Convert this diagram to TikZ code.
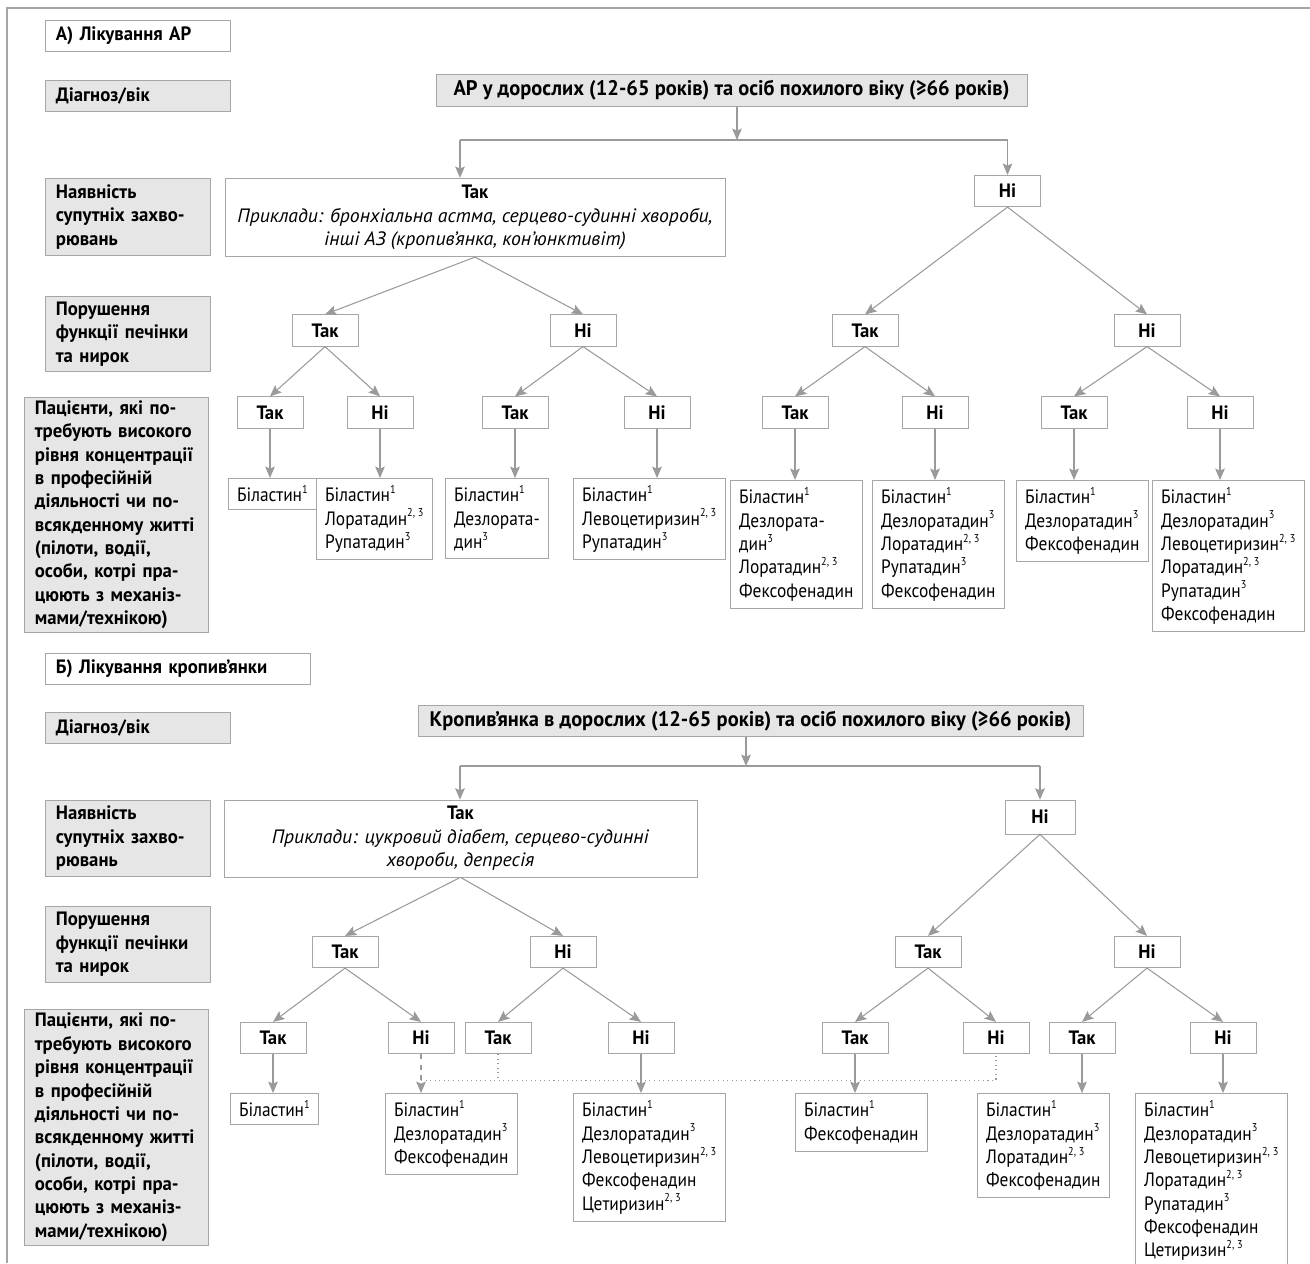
\documentclass[tikz,border=0pt]{standalone}
\usepackage{fontspec}
\setmainfont{PT Sans}[UprightFeatures={FakeStretch=0.9}, BoldFeatures={FakeStretch=0.97}, ItalicFeatures={FakeStretch=1.02}]
\usetikzlibrary{arrows.meta}

\definecolor{framegray}{HTML}{A6A6A6}
\definecolor{labelfill}{HTML}{E6E6E7}
\definecolor{arrowgray}{HTML}{9A9A9A}
\newcommand{\txtsize}{\fontsize{11}{13.3}\selectfont}
\newcommand{\hdsize}{\fontsize{12}{14}\selectfont}
\newcommand{\supn}[1]{\raisebox{0.85ex}{\fontsize{6.5}{6.5}\selectfont #1}}

\begin{document}
\begin{tikzpicture}[x=0.02cm, y=-0.02cm,
    title/.style={draw=framegray, fill=white, font=\txtsize\bfseries, anchor=north west, align=left, inner xsep=6pt, inner ysep=0pt, minimum height=0.62cm, text width=#1},
    rowlab/.style={title=#1, fill=labelfill},
    head/.style={draw=framegray, fill=labelfill, font=\hdsize\bfseries, minimum width=#1, minimum height=0.63cm, inner sep=0pt},
    yesbox/.style={draw=framegray, fill=white, font=\txtsize, align=center, minimum width=#1, minimum height=1.57cm, inner sep=0pt},
    dec/.style={draw=framegray, fill=white, font=\txtsize\bfseries, minimum width=1.32cm, minimum height=0.63cm, inner sep=0pt},
    leaf/.style={draw=framegray, fill=white, font=\txtsize, anchor=north west, align=left, inner xsep=5pt, inner ysep=4pt},
    con/.style={draw=arrowgray, line width=0.6pt},
    arr/.style={con, -{Stealth[length=6.5pt, width=5.5pt, inset=1.2pt]}},
    dashcon/.style={arr, dashed},
    dotcon/.style={con, dotted}
]
\clip (0,0) rectangle (1310,1263);
% Frame
\draw[framegray, line width=1.2pt] (7,1263) -- (7,8) -- (1310,8);

% ---------- A) ----------
% Row labels
\node[title=3.28cm] (aTitle) at (45,20) {А) Лікування АР};
\node[rowlab=3.28cm] (aDiag) at (45,80) {Діагноз/вік};
\node[rowlab=2.88cm, minimum height=1.54cm] (aComorb) at (45,178) {Наявність\\супутніх захво-\\рювань};
\node[rowlab=2.88cm, minimum height=1.5cm] (aOrgan) at (45,296) {Порушення\\функції печінки\\та нирок};
\node[rowlab=3.26cm, minimum height=4.7cm] (aFocus) at (24,397) {Пацієнти, які по-\\требують високого\\рівня концентрації\\в професійній\\діяльності чи по-\\всякденному житті\\(пілоти, водії,\\особи, котрі пра-\\цюють з механіз-\\мами/технікою)};
% Tree
\node[head=11.82cm] (aTop) at (731.5,90.5) {АР у дорослих (12-65 років) та осіб похилого віку (≥66 років)};
\node[yesbox=10cm] (aYes) at (475,217.5) {\textbf{Так}\\\textit{Приклади: бронхіальна астма, серцево-судинні хвороби,}\\\textit{інші АЗ (кропив’янка, кон’юнктивіт)}};
\node[dec] (aNo) at (1007.5,191) {Ні};
\node[dec] (aYesY) at (325,330.5) {Так};
\node[dec] (aYesN) at (583,330.5) {Ні};
\node[dec] (aNoY) at (865,330.5) {Так};
\node[dec] (aNoN) at (1147,330.5) {Ні};
\node[dec] (aYYY) at (270,412.5) {Так};
\node[dec] (aYYN) at (380,412.5) {Ні};
\node[dec] (aYNY) at (515,412.5) {Так};
\node[dec] (aYNN) at (657,412.5) {Ні};
\node[dec] (aNYY) at (795,412.5) {Так};
\node[dec] (aNYN) at (935,412.5) {Ні};
\node[dec] (aNNY) at (1074,412.5) {Так};
\node[dec] (aNNN) at (1220,412.5) {Ні};
% Drugs
\node[leaf] (aL1) at (228,478) {Біластин\supn{1}};
\node[leaf] (aL2) at (316,478) {Біластин\supn{1}\\Лоратадин\supn{2, 3}\\Рупатадин\supn{3}};
\node[leaf] (aL3) at (445,478) {Біластин\supn{1}\\Дезлората-\\дин\supn{3}};
\node[leaf] (aL4) at (573,478) {Біластин\supn{1}\\Левоцетиризин\supn{2, 3}\\Рупатадин\supn{3}};
\node[leaf] (aL5) at (730,480) {Біластин\supn{1}\\Дезлората-\\дин\supn{3}\\Лоратадин\supn{2, 3}\\Фексофенадин};
\node[leaf] (aL6) at (872,480) {Біластин\supn{1}\\Дезлоратадин\supn{3}\\Лоратадин\supn{2, 3}\\Рупатадин\supn{3}\\Фексофенадин};
\node[leaf] (aL7) at (1016,480) {Біластин\supn{1}\\Дезлоратадин\supn{3}\\Фексофенадин};
\node[leaf] (aL8) at (1152,480) {Біластин\supn{1}\\Дезлоратадин\supn{3}\\Левоцетиризин\supn{2, 3}\\Лоратадин\supn{2, 3}\\Рупатадин\supn{3}\\Фексофенадин};
% Connectors
\coordinate (aSplit) at (737,140);
\coordinate (aSplitL) at (460,140);
\coordinate (aSplitR) at (1007.5,140);
\draw[arr] (aSplit |- aTop.south) -- (aSplit);
\draw[con] (aSplitL) -- (aSplitR);
\draw[arr] (aSplitL) -- (aSplitL |- aYes.north);
\draw[arr] (aSplitR) -- (aNo.north);
\foreach \from/\to in {aYes/aYesY, aYes/aYesN, aNo/aNoY, aNo/aNoN,
    aYesY/aYYY, aYesY/aYYN, aYesN/aYNY, aYesN/aYNN,
    aNoY/aNYY, aNoY/aNYN, aNoN/aNNY, aNoN/aNNN}
  \draw[arr] (\from.south) -- (\to.north);
\foreach \from/\to in {aYYY/aL1, aYYN/aL2, aYNY/aL3, aYNN/aL4,
    aNYY/aL5, aNYN/aL6, aNNY/aL7, aNNN/aL8}
  \draw[arr] (\from.south) -- (\from.south |- \to.north);

% ---------- Б) ----------
% Row labels
\node[title=4.88cm] (bTitle) at (45,653) {Б) Лікування кропив’янки};
\node[rowlab=3.28cm] (bDiag) at (45,712) {Діагноз/вік};
\node[rowlab=2.88cm, minimum height=1.52cm] (bComorb) at (45,800) {Наявність\\супутніх захво-\\рювань};
\node[rowlab=2.88cm, minimum height=1.52cm] (bOrgan) at (45,906) {Порушення\\функції печінки\\та нирок};
\node[rowlab=3.26cm, minimum height=4.72cm] (bFocus) at (24,1009) {Пацієнти, які по-\\требують високого\\рівня концентрації\\в професійній\\діяльності чи по-\\всякденному житті\\(пілоти, водії,\\особи, котрі пра-\\цюють з механіз-\\мами/технікою)};
% Tree
\node[head=13.3cm] (bTop) at (750.5,721) {Кропив’янка в дорослих (12-65 років) та осіб похилого віку (≥66 років)};
\node[yesbox=9.46cm, minimum height=1.54cm] (bYes) at (460.5,838.5) {\textbf{Так}\\\textit{Приклади: цукровий діабет, серцево-судинні}\\\textit{хвороби, депресія}};
\node[dec, minimum width=1.4cm, minimum height=0.68cm] (bNo) at (1040,817) {Ні};
\node[dec] (bYesY) at (345,952) {Так};
\node[dec] (bYesN) at (563,952) {Ні};
\node[dec] (bNoY) at (928,952) {Так};
\node[dec] (bNoN) at (1147,952) {Ні};
\node[dec] (bYYY) at (273,1038) {Так};
\node[dec] (bYYN) at (421,1038) {Ні};
\node[dec] (bYNY) at (498,1038) {Так};
\node[dec] (bYNN) at (641,1038) {Ні};
\node[dec] (bNYY) at (855,1038) {Так};
\node[dec] (bNYN) at (996,1038) {Ні};
\node[dec] (bNNY) at (1082,1038) {Так};
\node[dec] (bNNN) at (1223,1038) {Ні};
% Drugs
\node[leaf] (bL1) at (230,1093) {Біластин\supn{1}};
\node[leaf] (bL2) at (385,1093) {Біластин\supn{1}\\Дезлоратадин\supn{3}\\Фексофенадин};
\node[leaf] (bL3) at (573,1093) {Біластин\supn{1}\\Дезлоратадин\supn{3}\\Левоцетиризин\supn{2, 3}\\Фексофенадин\\Цетиризин\supn{2, 3}};
\node[leaf] (bL4) at (795,1093) {Біластин\supn{1}\\Фексофенадин};
\node[leaf] (bL5) at (977,1093) {Біластин\supn{1}\\Дезлоратадин\supn{3}\\Лоратадин\supn{2, 3}\\Фексофенадин};
\node[leaf] (bL6) at (1135,1093) {Біластин\supn{1}\\Дезлоратадин\supn{3}\\Левоцетиризин\supn{2, 3}\\Лоратадин\supn{2, 3}\\Рупатадин\supn{3}\\Фексофенадин\\Цетиризин\supn{2, 3}};
% Connectors
\coordinate (bSplit) at (746,766);
\coordinate (bSplitL) at (460,766);
\coordinate (bSplitR) at (1040,766);
\draw[arr] (bSplit |- bTop.south) -- (bSplit);
\draw[con] (bSplitL) -- (bSplitR);
\draw[arr] (bSplitL) -- (bSplitL |- bYes.north);
\draw[arr] (bSplitR) -- (bNo.north);
\foreach \from/\to in {bYes/bYesY, bYes/bYesN, bNo/bNoY, bNo/bNoN,
    bYesY/bYYY, bYesY/bYYN, bYesN/bYNY, bYesN/bYNN,
    bNoY/bNYY, bNoY/bNYN, bNoN/bNNY, bNoN/bNNN}
  \draw[arr] (\from.south) -- (\to.north);
\foreach \from/\to in {bYYY/bL1, bYNN/bL3, bNYY/bL4, bNNY/bL5, bNNN/bL6}
  \draw[arr] (\from.south) -- (\from.south |- \to.north);
\path (bYYN.south) ++(0,26) coordinate (bJoin);
\draw[dashcon] (bYYN.south) -- (bYYN.south |- bL2.north);
\draw[dotcon] (bJoin) -- (bJoin -| bNYN.south) -- (bNYN.south);
\draw[dotcon] (bYNY.south) -- (bYNY.south |- bJoin);
\end{tikzpicture}
\end{document}
